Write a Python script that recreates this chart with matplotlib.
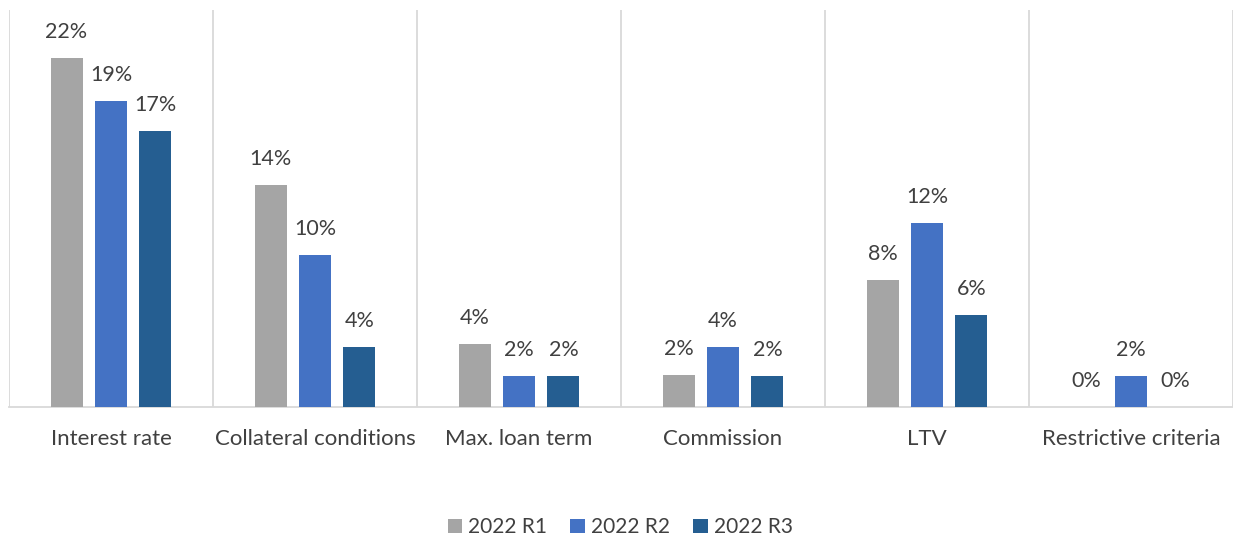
import matplotlib
matplotlib.use("Agg")
import matplotlib.pyplot as plt
import numpy as np

categories = ["Interest rate", "Collateral conditions", "Max. loan term",
              "Commission", "LTV", "Restrictive criteria"]
series_names = ["2022 R1", "2022 R2", "2022 R3"]
r1 = [22.0, 14.0, 4.0, 2.0, 8.0, 0.0]
r2 = [19.3, 9.6, 1.95, 3.8, 11.6, 1.95]
r3 = [17.4, 3.8, 1.95, 1.95, 5.8, 0.0]
colors = ["#A5A5A5", "#4472C4", "#255E91"]

plt.rcParams["font.family"] = ["Lato", "DejaVu Sans"]
text_color = "#404040"

fig = plt.figure(figsize=(12.33, 5.40), dpi=100)
ax = fig.add_axes([0.0073, 0.2463, 0.9927, 0.7347])

x = np.arange(len(categories))
width = 0.157
step = 0.218
for i, (vals, name, col) in enumerate(zip([r1, r2, r3], series_names, colors)):
    pos = x + (i - 1) * step
    bars = ax.bar(pos, vals, width, color=col, label=name, zorder=3)
    for b, v in zip(bars, vals):
        ax.annotate(f"{v:.0f}%", (b.get_x() + b.get_width() / 2, v),
                    xytext=(0, 11.5), textcoords="offset points",
                    ha="center", va="bottom", fontsize=15.5, color=text_color)

ax.set_xlim(-0.5, len(categories) - 0.5)
ax.set_ylim(0, 25)
ax.set_yticks([])
ax.set_xticks(x)
ax.set_xticklabels(categories, fontsize=16, color=text_color)
ax.tick_params(axis="x", length=0, pad=16)

# category separators
for b in np.arange(-0.5, len(categories) + 0.5, 1.0):
    ax.axvline(b, color="#D9D9D9", lw=1.3, zorder=1)

for s in ["top", "right", "left"]:
    ax.spines[s].set_visible(False)
ax.spines["bottom"].set_color("#D9D9D9")
ax.spines["bottom"].set_linewidth(1.3)

leg = fig.legend(loc="lower center", bbox_to_anchor=(0.503, 0.005), ncol=3,
                 frameon=False, fontsize=15, handlelength=0.7, handleheight=0.7,
                 handletextpad=0.3, columnspacing=1.1, borderpad=0.0,
                 borderaxespad=0.0)
for t in leg.get_texts():
    t.set_color(text_color)

fig.savefig("out.png", dpi=100)
